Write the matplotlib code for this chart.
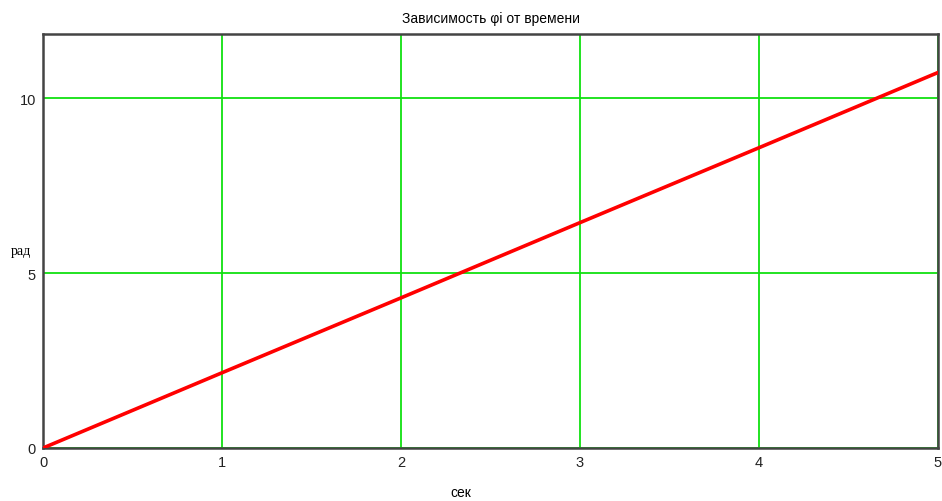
import matplotlib
matplotlib.use("Agg")
import matplotlib.pyplot as plt

# Time (sec) and angle (rad)
t = [0, 1, 2, 3, 4, 5]
phi = [0, 2.15, 4.29, 6.44, 8.58, 10.73]

x_ticks = [0, 1, 2, 3, 4, 5]
y_ticks = [0, 5, 10]

fig = plt.figure(figsize=(9.42, 5.02), dpi=100)
ax = fig.add_axes([43 / 942, 53 / 502, 895 / 942, 414 / 502])

ax.plot(t, phi, color="#ff0000", linewidth=2.6, zorder=3)

ax.set_xlim(0, 5)
ax.set_ylim(0, 11.83)
ax.set_xticks(x_ticks)
ax.set_yticks(y_ticks)
ax.grid(True, color="#10e010", linewidth=1.3)
ax.tick_params(length=0, labelsize=10.5, pad=5, colors="#222222")
for lbl in ax.get_xticklabels() + ax.get_yticklabels():
    lbl.set_family("Liberation Sans")

for s in ax.spines.values():
    s.set_color("#444444")
    s.set_linewidth(1.8)

ax.set_title("Зависимость φi от времени", fontsize=10, family="Liberation Sans", pad=8.5)
# axis labels placed like the reference (y label horizontal at the left)
fig.text(21 / 942, 1 - 252 / 502, "рад", fontsize=10, family="Liberation Serif",
         ha="center", va="center")
fig.text(461 / 942, 1 - 493 / 502, "сек", fontsize=10, family="Liberation Sans",
         ha="center", va="center")

fig.savefig("out.png", dpi=100)
